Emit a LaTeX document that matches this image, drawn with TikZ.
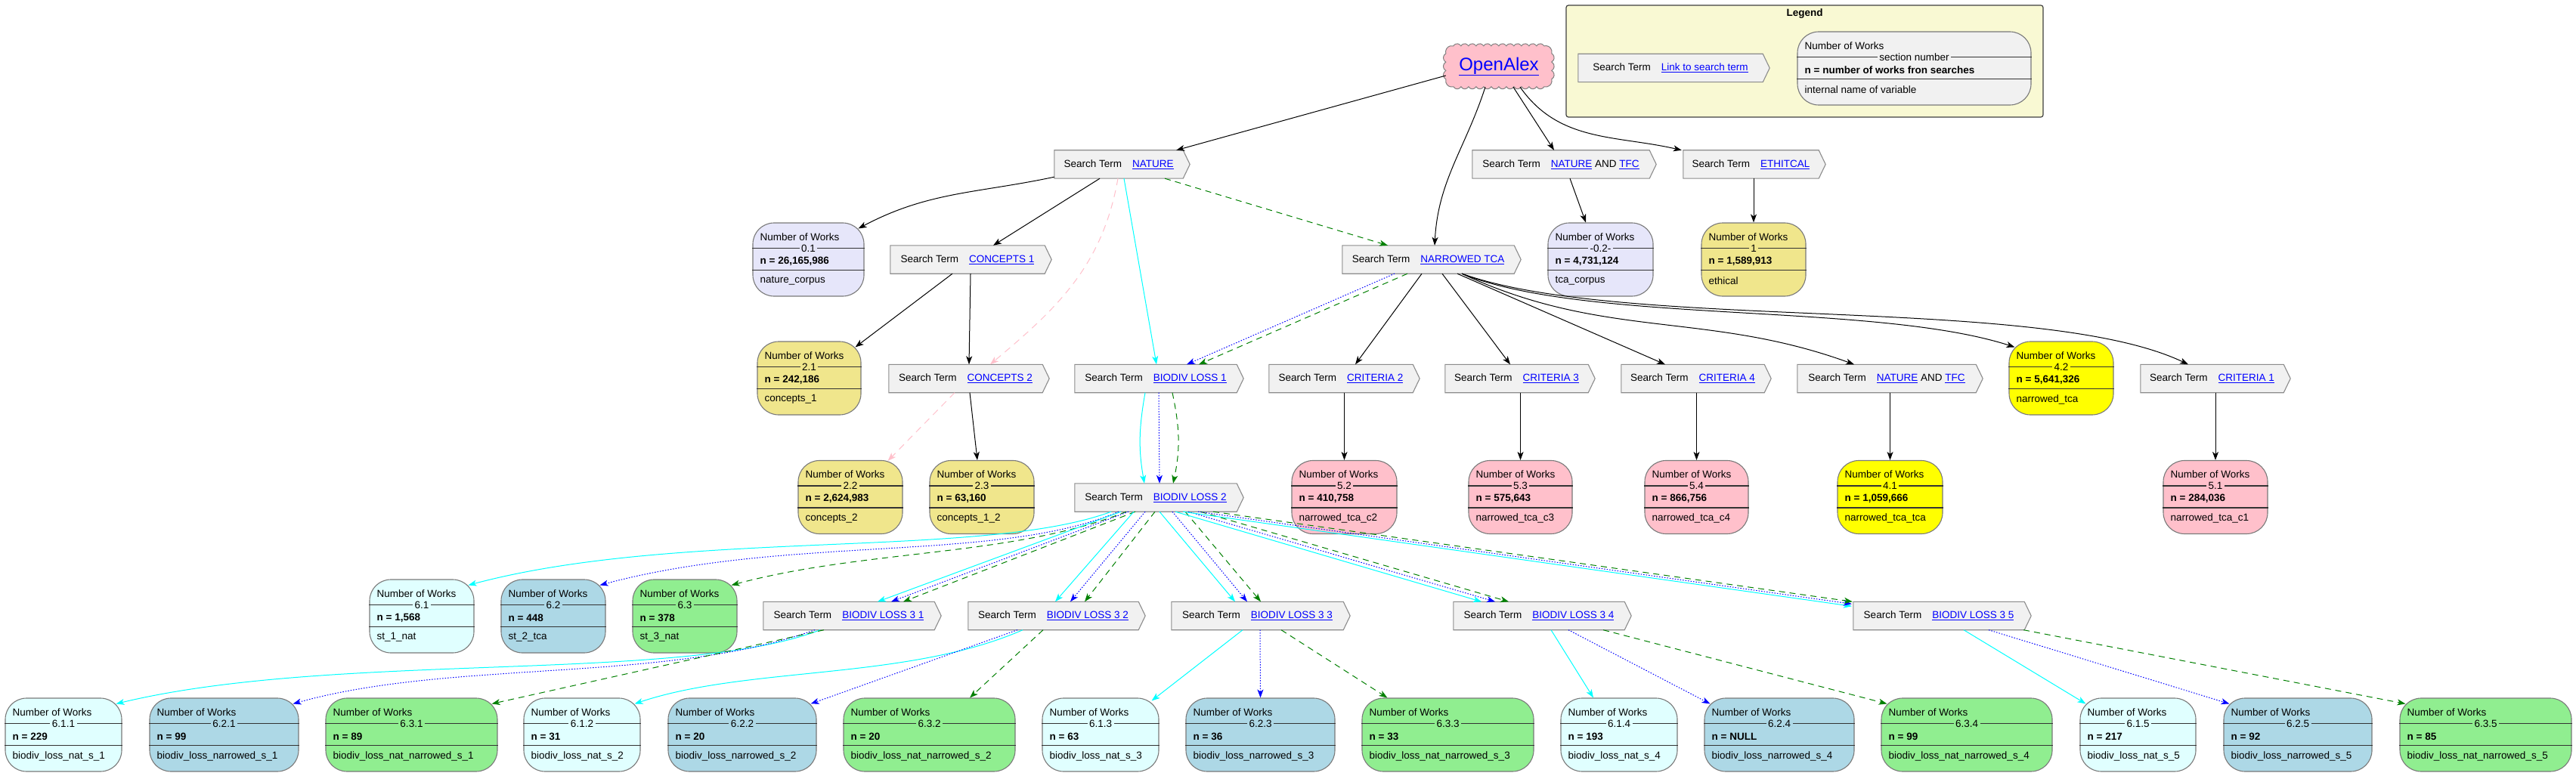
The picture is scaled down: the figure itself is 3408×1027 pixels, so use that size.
\documentclass[tikz,border=0pt]{standalone}
\usepackage{fontspec}
\setmainfont{Liberation Sans}
\usetikzlibrary{arrows.meta,backgrounds}
\definecolor{linkblue}{HTML}{0000FF}
\definecolor{stfill}{HTML}{F1F1F1}
\definecolor{stdraw}{HTML}{8C8C8C}
\definecolor{nbdraw}{HTML}{7A7A7A}
\definecolor{sepcol}{HTML}{333333}
\definecolor{cLavender}{HTML}{E6E6FA}
\definecolor{cKhaki}{HTML}{F0E68C}
\definecolor{cYellow}{HTML}{FFFF00}
\definecolor{cPink}{HTML}{FFC0CB}
\definecolor{cLCyan}{HTML}{E0FFFF}
\definecolor{cLBlue}{HTML}{ADD8E6}
\definecolor{cLGreen}{HTML}{90EE90}
\definecolor{cLegend}{HTML}{F9F9D3}
\definecolor{cLegBox}{HTML}{F1F1F1}
\definecolor{eCyan}{HTML}{00FFFF}
\definecolor{eBlue}{HTML}{0000FF}
\definecolor{eGreen}{HTML}{008000}
\definecolor{ePink}{HTML}{FFC0CB}
\newcommand{\myfs}{\fontsize{13.5}{16}\selectfont}
\newcommand{\lnk}[1]{\textcolor{linkblue}{\underline{#1}}}
\tikzset{
  stnode/.style={font=\myfs, rectangle, minimum height=37pt, inner sep=0pt},
  stshape/.style={fill=stfill, draw=stdraw, line width=1.1pt},
  nbox/.style={rectangle, rounded corners=28pt, draw=nbdraw, line width=1.1pt, minimum height=97pt, inner sep=0pt},
  sepline/.style={draw=sepcol, line width=1.4pt},
  nlabel/.style={font=\myfs, anchor=west, inner sep=0pt},
  seclabel/.style={font=\myfs, inner xsep=2.5pt, inner ysep=1pt},
  blk/.style={draw=black, line width=1pt, -{Stealth[length=11pt,width=8pt,inset=3pt]}},
  cyn/.style={blk, draw=eCyan},
  blu/.style={blk, draw=eBlue, dash pattern=on 1.5pt off 2pt},
  grn/.style={blk, draw=eGreen, dash pattern=on 8pt off 6pt},
  pnk/.style={blk, draw=ePink, dash pattern=on 9pt off 7pt},
}
\newcommand{\stbox}[5]{%
  \node[stnode, minimum width=#4pt] (#1) at (#2,-#3) {Search Term\hspace{14pt}#5};
  \begin{scope}[on background layer]
    \path[stshape] (#1.north west) -- (#1.north east) -- ([xshift=9pt]#1.east) -- (#1.south east) -- (#1.south west) -- cycle;
  \end{scope}}
\newcommand{\nbox}[8]{%
  \node[nbox, fill=#5, minimum width=#4pt] (#1) at (#2,-#3) {};
  \draw[sepline] ([yshift=-34pt]#1.north west) -- ([yshift=-34pt]#1.north east);
  \draw[sepline] ([yshift=-63pt]#1.north west) -- ([yshift=-63pt]#1.north east);
  \node[nlabel] (#1t) at ([xshift=10pt,yshift=-19pt]#1.north west) {Number of Works};
  \node[seclabel, fill=#5] (#1s) at ([yshift=-34pt]#1.north) {#6};
  \node[nlabel, font=\myfs\bfseries] (#1n) at ([xshift=10pt,yshift=-51pt]#1.north west) {n = #7};
  \node[nlabel] (#1v) at ([xshift=10pt,yshift=-77pt]#1.north west) {#8};}
\begin{document}
\begin{tikzpicture}[x=1pt,y=1pt]
\useasboundingbox (0,0) rectangle (3408,-1027);
\begin{scope}[on background layer]
  \fill[white] (0,0) rectangle (3408,-1027);
  \node[draw=black!75, fill=cLegend, rounded corners=3pt, line width=1.2pt, minimum width=631pt, minimum height=148pt, inner sep=0pt] (legend) at (2387.5,-81) {};
\end{scope}
\node[font=\myfs\bfseries] (legendtitle) at (2387.5,-18) {Legend};

% OpenAlex
\node[font=\fontsize{24}{28}\selectfont, minimum width=140pt, minimum height=54pt, inner sep=0pt] (oa) at (1983,-88) {\lnk{OpenAlex}};
\begin{scope}[on background layer]
  \path[fill=cPink, draw=gray, line width=1pt] ([xshift=10pt]oa.north west)
    \foreach \i in {1,...,12} { arc[start angle=150, end angle=30, radius=5.774] }
    arc[start angle=105, end angle=-15, radius=8.16]
    \foreach \i in {1,...,3} { arc[start angle=60, end angle=-60, radius=6.54] }
    arc[start angle=15, end angle=-105, radius=8.16]
    \foreach \i in {1,...,12} { arc[start angle=-30, end angle=-150, radius=5.774] }
    arc[start angle=-75, end angle=-195, radius=8.16]
    \foreach \i in {1,...,3} { arc[start angle=240, end angle=120, radius=6.54] }
    arc[start angle=195, end angle=75, radius=8.16] -- cycle;
\end{scope}

% legend contents
\stbox{stLegend}{2210}{90}{244}{\lnk{Link to search term}}
\nbox{lnb}{2532.5}{90.5}{309}{cLegBox}{section number}{number of works fron searches}{internal name of variable}

% search terms
\stbox{stNature}{1480}{217.5}{170}{\lnk{NATURE}}
\stbox{stNatTfcA}{2065}{217.5}{234}{\lnk{NATURE} AND \lnk{TFC}}
\stbox{stEthical}{2316.5}{217.5}{179}{\lnk{ETHITCAL}}
\stbox{stConcA}{1280}{343.5}{204}{\lnk{CONCEPTS 1}}
\stbox{stNarrow}{1889.5}{343.5}{227}{\lnk{NARROWED TCA}}
\stbox{stConcB}{1277.5}{501}{203}{\lnk{CONCEPTS 2}}
\stbox{stBLA}{1529}{501}{214}{\lnk{BIODIV LOSS 1}}
\stbox{stCritB}{1774}{501}{190}{\lnk{CRITERIA 2}}
\stbox{stCritC}{2006.5}{501}{189}{\lnk{CRITERIA 3}}
\stbox{stCritD}{2239.5}{501}{189}{\lnk{CRITERIA 4}}
\stbox{stNatTfcB}{2496}{501}{236}{\lnk{NATURE} AND \lnk{TFC}}
\stbox{stCritA}{2926.5}{501}{189}{\lnk{CRITERIA 1}}
\stbox{stBLB}{1529}{658.5}{214}{\lnk{BIODIV LOSS 2}}
\stbox{stBLCa}{1123}{815}{226}{\lnk{BIODIV LOSS 3 1}}
\stbox{stBLCb}{1393.5}{815}{225}{\lnk{BIODIV LOSS 3 2}}
\stbox{stBLCc}{1663.5}{815}{227}{\lnk{BIODIV LOSS 3 3}}
\stbox{stBLCd}{2036}{815}{226}{\lnk{BIODIV LOSS 3 4}}
\stbox{stBLCe}{2565}{815}{226}{\lnk{BIODIV LOSS 3 5}}

% number boxes
\nbox{nb01}{1069.5}{343.5}{147}{cLavender}{0.1}{26,165,986}{nature\_corpus}
\nbox{nb02}{2117.5}{343.5}{139}{cLavender}{-0.2-}{4,731,124}{tca\_corpus}
\nbox{nb1}{2320}{343.5}{138}{cKhaki}{1}{1,589,913}{ethical}
\nbox{nb21}{1070.5}{500.5}{137}{cKhaki}{2.1}{242,186}{concepts\_1}
\nbox{nb42}{2727}{500.5}{138}{cYellow}{4.2}{5,641,326}{narrowed\_tca}
\nbox{nb22}{1125}{658}{138}{cKhaki}{2.2}{2,624,983}{concepts\_2}
\nbox{nb23}{1299}{658}{138}{cKhaki}{2.3}{63,160}{concepts\_1\_2}
\nbox{nb52}{1778.5}{658}{139}{cPink}{5.2}{410,758}{narrowed\_tca\_c2}
\nbox{nb53}{2011.5}{658}{137}{cPink}{5.3}{575,643}{narrowed\_tca\_c3}
\nbox{nb54}{2244.5}{658}{137}{cPink}{5.4}{866,756}{narrowed\_tca\_c4}
\nbox{nb41}{2500.5}{658}{139}{cYellow}{4.1}{1,059,666}{narrowed\_tca\_tca}
\nbox{nb51}{2931}{658}{138}{cPink}{5.1}{284,036}{narrowed\_tca\_c1}
\nbox{nb61}{558}{815.5}{138}{cLCyan}{6.1}{1,568}{st\_1\_nat}
\nbox{nb62}{732}{815.5}{138}{cLBlue}{6.2}{448}{st\_2\_tca}
\nbox{nb63}{906}{815.5}{138}{cLGreen}{6.3}{378}{st\_3\_nat}
\nbox{nb611}{84}{972.5}{154}{cLCyan}{6.1.1}{229}{biodiv\_loss\_nat\_s\_1}
\nbox{nb621}{296.5}{972.5}{197}{cLBlue}{6.2.1}{99}{biodiv\_loss\_narrowed\_s\_1}
\nbox{nb631}{544.5}{972.5}{227}{cLGreen}{6.3.1}{89}{biodiv\_loss\_nat\_narrowed\_s\_1}
\nbox{nb612}{770}{972.5}{154}{cLCyan}{6.1.2}{31}{biodiv\_loss\_nat\_s\_2}
\nbox{nb622}{982}{972.5}{196}{cLBlue}{6.2.2}{20}{biodiv\_loss\_narrowed\_s\_2}
\nbox{nb632}{1229.5}{972.5}{227}{cLGreen}{6.3.2}{20}{biodiv\_loss\_nat\_narrowed\_s\_2}
\nbox{nb613}{1456}{972.5}{154}{cLCyan}{6.1.3}{63}{biodiv\_loss\_nat\_s\_3}
\nbox{nb623}{1667.5}{972.5}{197}{cLBlue}{6.2.3}{36}{biodiv\_loss\_narrowed\_s\_3}
\nbox{nb633}{1915.5}{972.5}{227}{cLGreen}{6.3.3}{33}{biodiv\_loss\_nat\_narrowed\_s\_3}
\nbox{nb614}{2142}{972.5}{154}{cLCyan}{6.1.4}{193}{biodiv\_loss\_nat\_s\_4}
\nbox{nb624}{2354}{972.5}{198}{cLBlue}{6.2.4}{NULL}{biodiv\_loss\_narrowed\_s\_4}
\nbox{nb634}{2602}{972.5}{226}{cLGreen}{6.3.4}{99}{biodiv\_loss\_nat\_narrowed\_s\_4}
\nbox{nb615}{2828.5}{972.5}{153}{cLCyan}{6.1.5}{217}{biodiv\_loss\_nat\_s\_5}
\nbox{nb625}{3040}{972.5}{196}{cLBlue}{6.2.5}{92}{biodiv\_loss\_narrowed\_s\_5}
\nbox{nb635}{3288.5}{972.5}{227}{cLGreen}{6.3.5}{85}{biodiv\_loss\_nat\_narrowed\_s\_5}

% black edges
\draw[blk] ([yshift=-12pt]oa.west) -- ([xshift=-9pt]stNature.north east);
\draw[blk] ([xshift=-18pt]oa.south) to[out=-108,in=87] ([xshift=8.5pt]stNarrow.north);
\draw[blk] ([xshift=19pt]oa.south) -- ([xshift=-9pt]stNatTfcA.north);
\draw[blk] ([xshift=28pt]oa.south) to[out=-55,in=167] ([xshift=-2pt]stEthical.north west);
\draw[blk] ([yshift=2pt]stNature.south west) to[out=192,in=28] ([xshift=-8pt,yshift=-8pt]nb01.north east);
\draw[blk] ([xshift=-25pt]stNature.south) -- ([xshift=34pt]stConcA.north);
\draw[blk] ([xshift=12pt]stNatTfcA.south) -- ([xshift=-19.5pt]nb02.north);
\draw[blk] (stEthical.south -| nb1.north) -- (nb1.north);
\draw[blk] ([xshift=-20pt]stConcA.south) -- ([xshift=-8pt,yshift=-8pt]nb21.north east);
\draw[blk] ([xshift=4pt]stConcA.south) -- ([xshift=4.5pt]stConcB.north);
\draw[blk] ([xshift=-8.5pt]stNarrow.south) -- ([xshift=19pt]stCritB.north);
\draw[blk] ([xshift=18.5pt]stNarrow.south) -- ([xshift=-8.5pt]stCritC.north);
\draw[blk] ([xshift=38.5pt]stNarrow.south) -- ([xshift=-36.5pt]stCritD.north);
\draw[blk] ([xshift=44.5pt]stNarrow.south) to[out=-25,in=160] ([xshift=-43pt]stNatTfcB.north);
\draw[blk] ([xshift=44.5pt]stNarrow.south) .. controls +(166,-67) and +(-186,60) .. ([xshift=8pt,yshift=-8pt]nb42.north west);
\draw[blk] ([xshift=44.5pt]stNarrow.south) .. controls +(216,-77) and +(-195,93) .. ([xshift=-31.5pt]stCritA.north);
\draw[blk] ([xshift=5.5pt]stConcB.south) -- ([xshift=-6pt]nb23.north);
\draw[blk] (stCritB.south -| nb52.north) -- (nb52.north);
\draw[blk] (stCritC.south -| nb53.north) -- (nb53.north);
\draw[blk] (stCritD.south -| nb54.north) -- (nb54.north);
\draw[blk] (stNatTfcB.south -| nb41.north) -- (nb41.north);
\draw[blk] (stCritA.south -| nb51.north) -- (nb51.north);

% coloured edges, upper part
\draw[pnk] ([xshift=-1pt]stNature.south) to[out=-100,in=40] ([xshift=32.5pt]stConcB.north);
\draw[pnk] ([xshift=-14.5pt]stConcB.south) -- ([xshift=-20pt,yshift=-1pt]nb22.north east);
\draw[cyn] ([xshift=7pt]stNature.south) -- ([xshift=1pt]stBLA.north);
\draw[grn] ([xshift=61pt]stNature.south) -- ([xshift=-53.5pt]stNarrow.north);
\draw[blu] ([xshift=-44.5pt]stNarrow.south) -- ([xshift=41pt]stBLA.north);
\draw[grn] ([xshift=-27.5pt]stNarrow.south) -- ([xshift=57pt]stBLA.north);
\draw[cyn] ([xshift=-14pt]stBLA.south) to[out=-100,in=100] ([xshift=-15pt]stBLB.north);
\draw[blu] ([xshift=4pt]stBLA.south) -- ([xshift=5pt]stBLB.north);
\draw[grn] ([xshift=22pt]stBLA.south) to[out=-78,in=78] ([xshift=23pt]stBLB.north);

% BIODIV LOSS 2 fan
\draw[cyn] ([xshift=-59pt]stBLB.south) .. controls +(-170,-63) and +(281,75) .. ([xshift=-8pt,yshift=-8pt]nb61.north east);
\draw[blu] ([xshift=-49pt]stBLB.south) .. controls +(-160,-68) and +(250,67) .. ([xshift=-8pt,yshift=-8pt]nb62.north east);
\draw[grn] ([xshift=-39pt]stBLB.south) .. controls +(-150,-60) and +(180,48) .. ([xshift=-8pt,yshift=-8pt]nb63.north east);
\draw[cyn] ([xshift=-46pt]stBLB.south) -- ([xshift=38pt]stBLCa.north);
\draw[blu] ([xshift=-36pt]stBLB.south) -- ([xshift=56pt]stBLCa.north);
\draw[grn] ([xshift=-27pt]stBLB.south) -- ([xshift=72pt]stBLCa.north);
\draw[cyn] ([xshift=-29pt]stBLB.south) -- ([xshift=2.5pt]stBLCb.north);
\draw[blu] ([xshift=-14pt]stBLB.south) -- ([xshift=22.5pt]stBLCb.north);
\draw[grn] ([xshift=-1pt]stBLB.south) -- ([xshift=41.5pt]stBLCb.north);
\draw[cyn] ([xshift=5pt]stBLB.south) -- ([xshift=-29.5pt]stBLCc.north);
\draw[blu] ([xshift=22pt]stBLB.south) -- ([xshift=-13.5pt]stBLCc.north);
\draw[grn] ([xshift=39pt]stBLB.south) -- ([xshift=4.5pt]stBLCc.north);
\draw[cyn] ([xshift=26pt]stBLB.south) -- ([xshift=-76pt]stBLCd.north);
\draw[blu] ([xshift=43pt]stBLB.south) -- ([xshift=-58pt]stBLCd.north);
\draw[grn] ([xshift=59pt]stBLB.south) -- ([xshift=-40pt]stBLCd.north);
\draw[cyn] ([xshift=36pt]stBLB.south) -- ([xshift=-2pt,yshift=-6pt]stBLCe.north west);
\draw[blu] ([xshift=56pt]stBLB.south) -- ([xshift=-2pt,yshift=-3pt]stBLCe.north west);
\draw[grn] ([xshift=76pt]stBLB.south) -- ([xshift=-1pt]stBLCe.north west);

% BIODIV LOSS 3 x to leaves
\draw[cyn] ([xshift=-38pt]stBLCa.south) .. controls +(-185,-71) and +(291,70) .. ([xshift=-8pt,yshift=-8pt]nb611.north east);
\draw[blu] ([xshift=-45pt]stBLCa.south) .. controls +(-198,-71) and +(211,59) .. ([xshift=-8pt,yshift=-8pt]nb621.north east);
\draw[grn] ([xshift=-33pt]stBLCa.south) -- ([xshift=-8pt,yshift=-8pt]nb631.north east);
\draw[cyn] ([xshift=-40.5pt]stBLCb.south) .. controls +(-153,-67) and +(149,50) .. ([xshift=-8pt,yshift=-8pt]nb612.north east);
\draw[blu] ([xshift=-47.5pt]stBLCb.south) -- ([xshift=-8pt,yshift=-8pt]nb622.north east);
\draw[grn] ([xshift=-13.5pt]stBLCb.south) -- ([xshift=53.5pt]nb632.north);
\draw[cyn] ([xshift=-19.5pt]stBLCc.south) -- ([xshift=-10pt,yshift=-4pt]nb613.north east);
\draw[blu] ([xshift=3.5pt]stBLCc.south) -- (nb623.north);
\draw[grn] ([xshift=31.5pt]stBLCc.south) -- ([xshift=34pt]nb633.north west);
\draw[cyn] ([xshift=16pt]stBLCd.south) -- ([xshift=-34pt]nb614.north);
\draw[blu] ([xshift=39pt]stBLCd.south) -- ([xshift=8pt,yshift=-8pt]nb624.north west);
\draw[grn] ([xshift=85pt]stBLCd.south) -- ([xshift=8pt,yshift=-8pt]nb634.north west);
\draw[cyn] ([xshift=33pt]stBLCe.south) -- ([xshift=8pt,yshift=-8pt]nb615.north west);
\draw[blu] ([xshift=66pt]stBLCe.south) -- ([xshift=8pt,yshift=-8pt]nb625.north west);
\draw[grn] ([xshift=-1pt]stBLCe.south east) -- ([xshift=8pt,yshift=-8pt]nb635.north west);
\end{tikzpicture}
\end{document}
